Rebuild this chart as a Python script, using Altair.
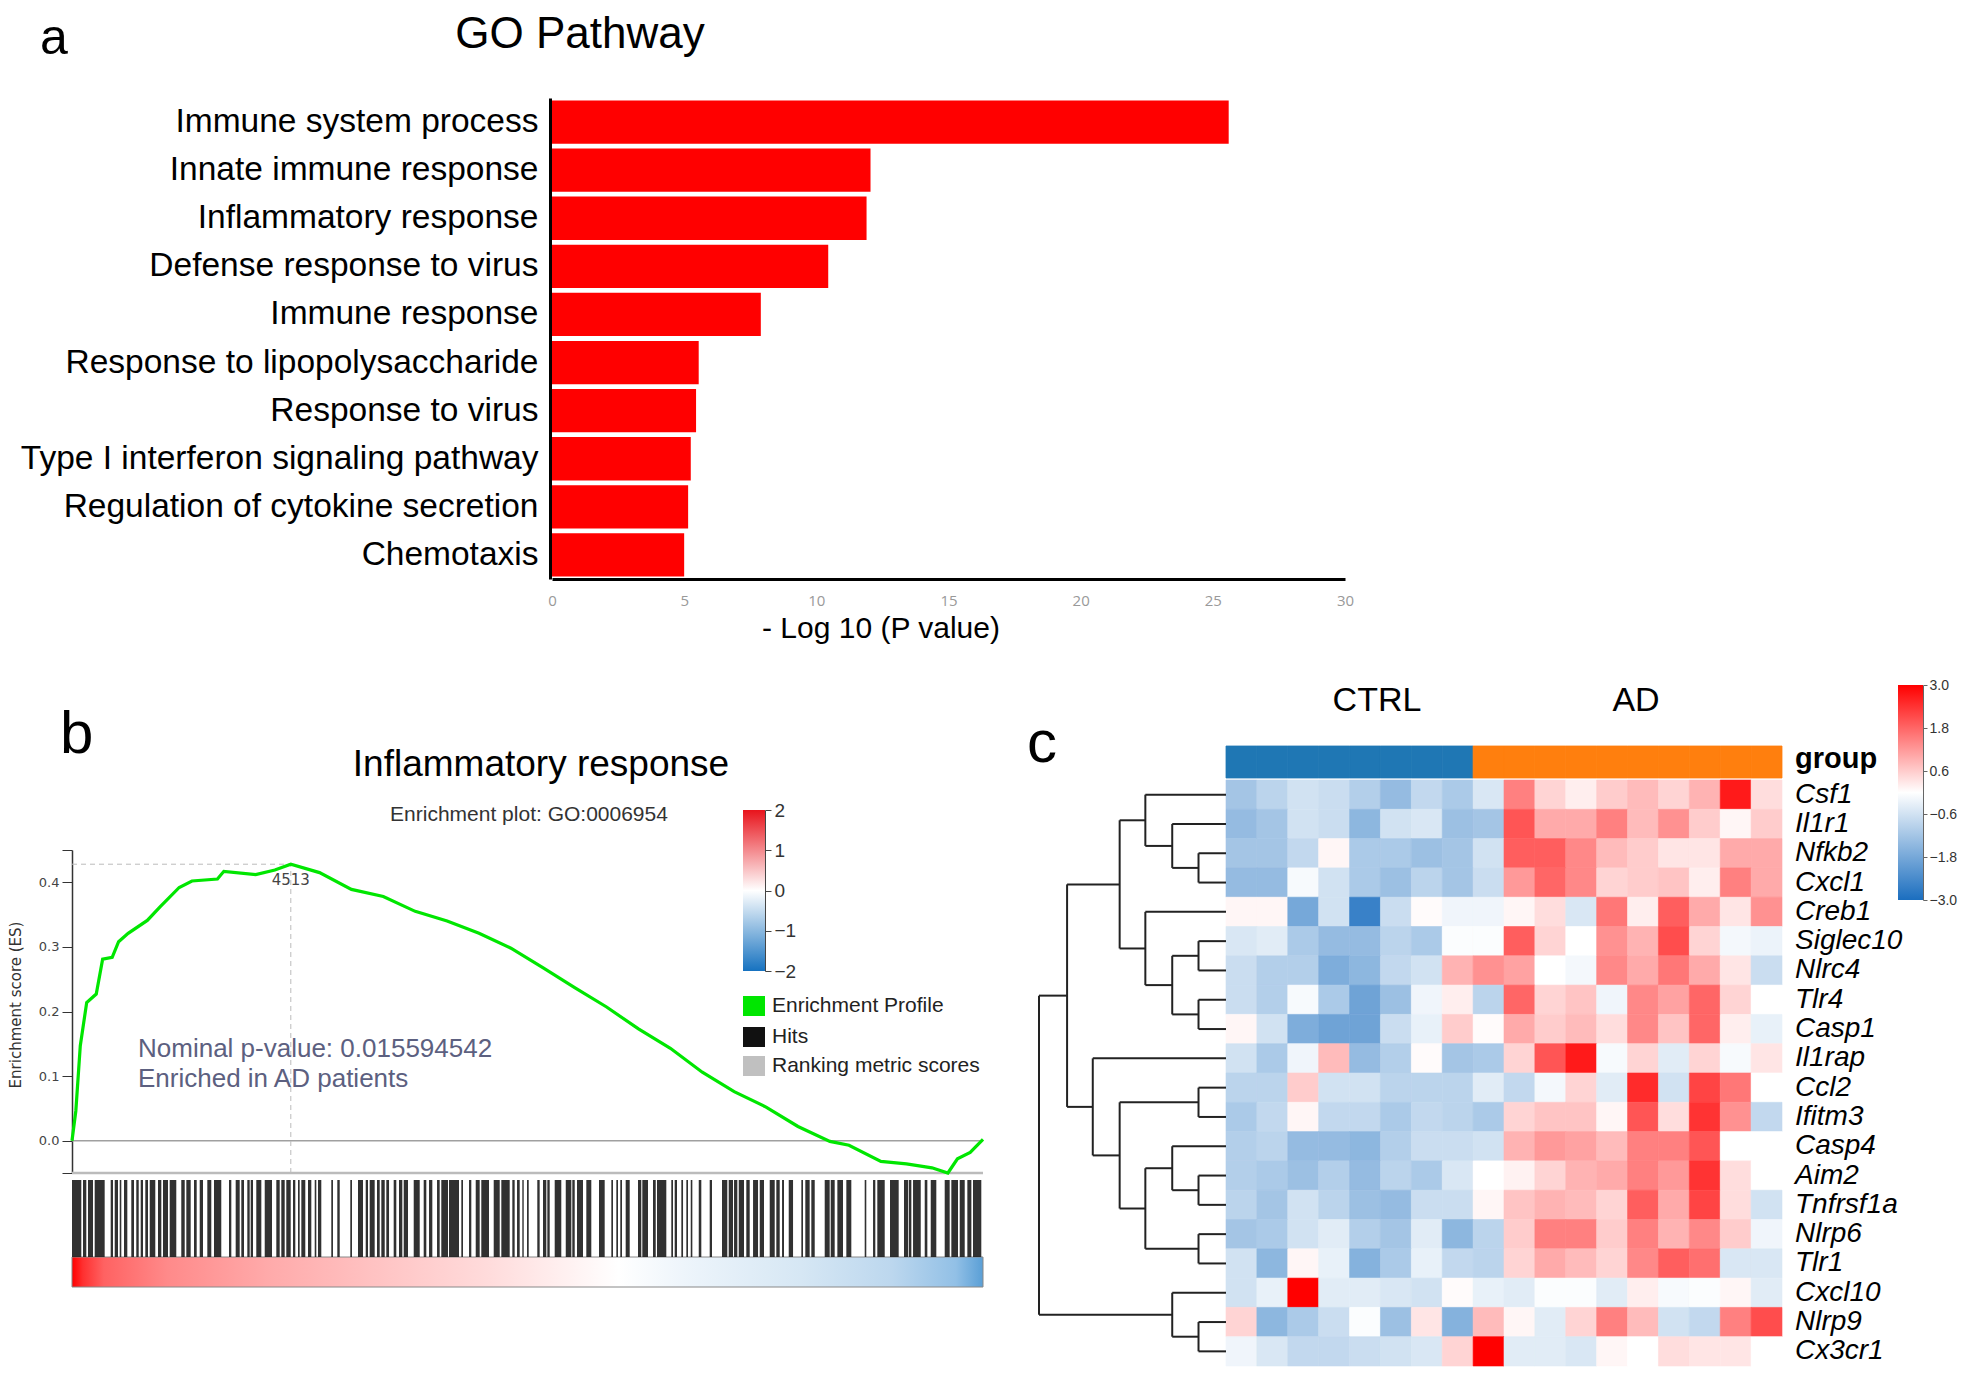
import altair as alt
import pandas as pd

W, H = 1952, 1364
M = 8


def X(v):
    return v - M


def Y(v):
    return v - M


SANS = "Liberation Sans"

# ---------------- Panel a : GO pathway ----------------
go_terms = [
    "Immune system process",
    "Innate immune response",
    "Inflammatory response",
    "Defense response to virus",
    "Immune response",
    "Response to lipopolysaccharide",
    "Response to virus",
    "Type I interferon signaling pathway",
    "Regulation of cytokine secretion",
    "Chemotaxis",
]
go_neglog10p = [25.6, 12.05, 11.9, 10.45, 7.9, 5.55, 5.45, 5.25, 5.15, 5.0]
go_ticks = [0, 5, 10, 15, 20, 25, 30]

# ---------------- Panel b : GSEA ----------------
n_ranked = 18790
es_rank = [0, 79, 171, 303, 500, 632, 829, 961, 1158, 1553, 1816, 2211, 2474, 3000, 3132,
           3790, 4184, 4513, 5105, 5763, 6421, 7079, 7737, 8395, 9053, 9711, 10368, 11026,
           11684, 12342, 13000, 13658, 14316, 14974, 15632, 16026, 16684, 17211, 17737,
           18066, 18263, 18526, 18790]
es_score = [0.0, 0.046, 0.147, 0.214, 0.227, 0.281, 0.284, 0.308, 0.321, 0.341, 0.362, 0.392,
            0.402, 0.405, 0.417, 0.412, 0.419, 0.428, 0.415, 0.389, 0.378, 0.355, 0.340, 0.321,
            0.298, 0.268, 0.237, 0.207, 0.173, 0.143, 0.106, 0.076, 0.052, 0.022, -0.001,
            -0.007, -0.032, -0.036, -0.042, -0.050, -0.028, -0.018, 0.002]
peak_rank = 4513
es_ticks = [-0.05, 0.0, 0.1, 0.2, 0.3, 0.4, 0.45]

hit_start = [0, 227, 330, 468, 798, 881, 984, 1073, 1223, 1326, 1417, 1512, 1603, 1774, 1877,
             2015, 2254, 2358, 2516, 2634, 2791, 2929, 3238, 3376, 3492, 3616, 3686, 3801, 3975,
             4214, 4317, 4420, 4558, 4661, 4730, 4868, 5006, 5074, 5348, 5472, 5740, 5899, 6058,
             6140, 6291, 6380, 6483, 6635, 6745, 6842, 7048, 7254, 7364, 7529, 7617, 7776, 8030,
             8189, 8327, 8442, 8698, 8855, 9082, 9179, 9288, 9385, 9597, 9715, 9804, 9956, 10184,
             10319, 10416, 10608, 10870, 11124, 11227, 11309, 11420, 11674, 11763, 11984, 12066,
             12361, 12431, 12568, 12671, 12762, 12927, 13153, 13407, 13545, 13655, 13752, 13908,
             14047, 14185, 14391, 14527, 14645, 14783, 15043, 15125, 15249, 15525, 15649, 15786,
             15971, 16350, 16522, 16610, 16872, 17161, 17258, 17347, 17588, 17712, 18000, 18137,
             18310, 18467, 18584]
hit_end = [192, 295, 433, 674, 846, 949, 1017, 1141, 1279, 1376, 1464, 1568, 1718, 1842, 1980,
           2151, 2325, 2448, 2572, 2702, 2873, 3079, 3286, 3459, 3548, 3665, 3733, 3905, 4125,
           4284, 4387, 4511, 4606, 4696, 4812, 4936, 5039, 5142, 5383, 5522, 5775, 6002, 6105,
           6243, 6347, 6450, 6539, 6689, 6813, 6930, 7172, 7308, 7432, 7584, 7755, 7982, 8065,
           8236, 8409, 8601, 8822, 9028, 9130, 9234, 9317, 9420, 9646, 9783, 9853, 10092, 10299,
           10369, 10540, 10711, 10987, 11159, 11262, 11344, 11503, 11742, 11880, 12040, 12258,
           12396, 12479, 12603, 12706, 12795, 12980, 13201, 13516, 13634, 13723, 13861, 13978,
           14150, 14273, 14494, 14597, 14686, 14872, 15078, 15215, 15319, 15628, 15731, 15903,
           16074, 16383, 16569, 16763, 17051, 17243, 17312, 17506, 17642, 17827, 18103, 18275,
           18413, 18550, 18755]

rank_stops = [(0.0, "#ff0000"), (0.012, "#ff3030"), (0.035, "#ff6262"), (0.105, "#ff8a8a"),
              (0.215, "#ffaaaa"), (0.33, "#ffc2c2"), (0.46, "#ffdcdc"), (0.6, "#ffffff"),
              (0.67, "#eef5fb"), (0.8, "#d6e7f4"), (0.9, "#bcd7ee"), (0.97, "#92c0e6"),
              (1.0, "#5a9fd6")]
metric_ticks = [2, 1, 0, -1, -2]

# ---------------- Panel c : heatmap ----------------
genes = ["Csf1", "Il1r1", "Nfkb2", "Cxcl1", "Creb1", "Siglec10", "Nlrc4", "Tlr4", "Casp1",
         "Il1rap", "Ccl2", "Ifitm3", "Casp4", "Aim2", "Tnfrsf1a", "Nlrp6", "Tlr1", "Cxcl10",
         "Nlrp9", "Cx3cr1"]
samples = [f"CTRL{i}" for i in range(1, 9)] + [f"AD{i}" for i in range(1, 11)]
groups = ["CTRL"] * 8 + ["AD"] * 10
expr = [
    [-1.2, -0.9, -0.6, -0.7, -1.0, -1.4, -0.8, -1.1, -0.5, 1.5, 0.5, 0.2, 0.6, 0.8, 0.5, 0.9, 2.7, 0.4],
    [-1.4, -1.2, -0.6, -0.7, -1.5, -0.6, -0.5, -1.3, -1.2, 2.0, 1.0, 1.0, 1.5, 0.8, 1.3, 0.6, 0.1, 0.6],
    [-1.2, -1.2, -0.8, 0.1, -1.1, -1.1, -1.3, -1.2, -0.6, 1.9, 1.9, 1.4, 0.8, 0.6, 0.3, 0.3, 1.0, 1.0],
    [-1.4, -1.4, -0.1, -0.6, -1.1, -1.3, -0.9, -1.2, -0.7, 1.2, 1.8, 1.4, 0.5, 0.6, 0.7, 0.2, 1.5, 1.0],
    [0.1, 0.1, -1.8, -0.6, -2.6, -0.7, 0.05, -0.2, -0.2, 0.1, 0.4, -0.5, 1.6, 0.2, 1.9, 1.0, 0.3, 1.3],
    [-0.5, -0.4, -1.1, -1.4, -1.4, -0.9, -1.1, -0.05, -0.05, 1.9, 0.5, 0.0, 1.3, 0.9, 2.1, 0.5, -0.15, -0.25],
    [-0.7, -1.0, -1.0, -1.7, -1.5, -0.8, -0.6, 0.9, 1.3, 1.1, 0.0, -0.15, 1.4, 1.0, 1.6, 1.0, 0.3, -0.7],
    [-0.7, -1.0, -0.1, -1.1, -1.9, -1.3, -0.2, 0.2, -0.9, 1.8, 0.5, 0.7, -0.2, 1.4, 1.1, 1.8, 0.5, 0.0],
    [0.1, -0.6, -1.7, -1.9, -1.9, -0.7, -0.3, 0.6, 0.05, 1.0, 0.6, 0.8, 0.4, 1.4, 0.7, 1.8, 0.2, -0.3],
    [-0.6, -1.1, -0.2, 0.8, -1.4, -1.0, 0.05, -1.2, -1.1, 0.5, 2.0, 2.7, -0.1, 0.5, -0.4, 0.5, -0.1, 0.3],
    [-0.9, -0.9, 0.6, -0.6, -0.6, -0.9, -0.9, -0.9, -0.4, -0.8, -0.15, 0.5, -0.4, 2.5, -0.6, 2.2, 1.6, 0.0],
    [-1.1, -0.8, 0.1, -0.8, -0.8, -1.1, -0.8, -0.9, -1.1, 0.5, 0.7, 0.7, 0.1, 2.0, 0.4, 2.4, 1.3, -0.8],
    [-1.0, -0.9, -1.4, -1.4, -1.5, -1.0, -0.7, -0.7, -0.6, 0.9, 1.2, 1.1, 0.8, 1.5, 1.5, 2.0, 0.0, 0.0],
    [-1.0, -1.1, -1.3, -1.0, -1.4, -0.9, -1.1, -0.5, 0.0, 0.15, 0.5, 0.9, 1.0, 1.5, 1.2, 2.4, 0.4, 0.0],
    [-0.9, -1.2, -0.6, -0.9, -1.3, -1.4, -0.7, -0.7, 0.1, 0.7, 0.9, 0.8, 0.5, 1.9, 1.0, 2.2, 0.4, -0.6],
    [-1.2, -1.1, -0.6, -0.4, -1.0, -1.2, -0.4, -1.5, -0.9, 0.6, 1.5, 1.5, 0.6, 1.5, 0.9, 1.4, 0.6, -0.2],
    [-0.6, -1.5, 0.1, -0.3, -1.6, -1.1, -0.3, -0.8, -0.9, 0.5, 1.0, 0.8, 0.5, 1.4, 1.9, 1.7, -0.5, -0.5],
    [-0.6, -0.3, 3.0, -0.4, -0.4, -0.5, -0.6, 0.05, -0.3, -0.4, -0.05, -0.05, -0.4, 0.2, -0.1, -0.05, 0.1, -0.4],
    [0.5, -1.5, -1.1, -0.7, -0.05, -1.3, 0.3, -1.6, 0.8, 0.1, -0.4, 0.5, 1.5, 0.8, -0.6, -0.8, 1.5, 2.1],
    [-0.2, -0.5, -0.8, -0.8, -0.7, -0.6, -0.5, 0.5, 3.0, -0.4, -0.4, -0.5, 0.1, 0.0, 0.4, 0.3, 0.3, 0.0],
]
# hierarchical clustering merges (child a, child b, height); "mK" = K-th merge
merges = [
    ("Nfkb2", "Cxcl1", 46), ("Il1r1", "m0", 90), ("Csf1", "m1", 135),
    ("Siglec10", "Nlrc4", 46), ("Tlr4", "Casp1", 46), ("m3", "m4", 90), ("Creb1", "m5", 135),
    ("m2", "m6", 178), ("Ccl2", "Ifitm3", 46), ("Aim2", "Tnfrsf1a", 46), ("Nlrp6", "Tlr1", 46),
    ("Casp4", "m9", 90), ("m11", "m10", 135), ("m8", "m12", 178), ("Il1rap", "m13", 223),
    ("m7", "m14", 266), ("Nlrp9", "Cx3cr1", 46), ("Cxcl10", "m16", 90), ("m15", "m17", 313),
]
heat_ticks = [3.0, 1.8, 0.6, -0.6, -1.8, -3.0]
heat_colors = ["#1b6ebf", "#ffffff", "#ff0000"]
group_colors = ["#1f77b4", "#ff7f0e"]


# ---------------- helpers ----------------
def label(text, x, y, size, font=SANS, color="#000000", align="left", baseline="alphabetic",
          weight="normal", style="normal", angle=0):
    return alt.Chart(alt.Data(values=[{"t": text}])).mark_text(
        font=font, fontSize=size, color=color, align=align, baseline=baseline,
        fontWeight=weight, fontStyle=style, angle=angle,
    ).encode(text="t:N", x=alt.value(X(x)), y=alt.value(Y(y)))


def box(x1, y1, x2, y2, color):
    return alt.Chart(alt.Data(values=[{"k": 0}])).mark_rect(color=color).encode(
        x=alt.value(X(x1)), x2=alt.value(X(x2)), y=alt.value(Y(y1)), y2=alt.value(Y(y2)))


def gradient(stops, vertical=False):
    return alt.LinearGradient(
        gradient="linear",
        stops=[alt.GradientStop(offset=o, color=c) for o, c in stops],
        x1=0, y1=0, x2=0 if vertical else 1, y2=1 if vertical else 0)


layers = []

# ---------------- Panel a ----------------
df_a = pd.DataFrame({"term": go_terms, "val": go_neglog10p})
bars = alt.Chart(df_a).mark_bar(color="#ff0000").encode(
    x=alt.X("val:Q",
            scale=alt.Scale(domain=[0, 30], range=[X(552), X(1345)], nice=False, zero=False),
            axis=alt.Axis(orient="bottom", offset=-(H - Y(579)), values=go_ticks,
                          labelFont="Open Sans", labelFontSize=15, labelColor="#999999",
                          labelPadding=14, ticks=False, tickSize=0, domainColor="#000000",
                          domainWidth=3, grid=False, title=None, labelFlush=False)),
    y=alt.Y("term:N",
            scale=alt.Scale(domain=go_terms, range=[Y(98), Y(579)], paddingInner=0.1,
                            paddingOuter=0.05),
            axis=alt.Axis(orient="left", offset=-X(550), labelFont=SANS, labelFontSize=33.5,
                          labelColor="#000000", labelPadding=12, ticks=False, tickSize=0,
                          domainColor="#000000", domainWidth=3, grid=False, title=None,
                          labelLimit=0)),
)
layers += [
    label("a", 40, 54, 50),
    label("GO Pathway", 580, 48, 44, align="center"),
    bars,
    label("- Log 10 (P value)", 881, 638, 30, align="center"),
]

# ---------------- Panel b ----------------
es_xs = alt.Scale(domain=[0, n_ranked], range=[X(72), X(983)], nice=False, zero=False)
es_ys = alt.Scale(domain=[-0.05, 0.45], range=[Y(1173), Y(850)], nice=False, zero=False)
es_df = pd.DataFrame({"rank": es_rank, "es": es_score})
peak_es = max(es_score)

grad_bar = alt.Chart(alt.Data(values=[{"a": 0, "b": n_ranked}])).mark_rect(
    color=gradient(rank_stops), stroke="#888888", strokeWidth=1).encode(
    x=alt.X("a:Q", scale=es_xs, axis=None), x2="b:Q",
    y=alt.value(Y(1257)), y2=alt.value(Y(1287)))

hits_df = pd.DataFrame({"s": hit_start, "e": hit_end})
hits = alt.Chart(hits_df).mark_rect(color="#141414", opacity=0.88).encode(
    x=alt.X("s:Q", scale=es_xs, axis=None), x2="e:Q",
    y=alt.value(Y(1180)), y2=alt.value(Y(1257)))

zero_line = alt.Chart(alt.Data(values=[{"a": 0, "b": n_ranked, "y": 0.0}])).mark_rule(
    color="#a0a0a0", strokeWidth=1.5).encode(
    x=alt.X("a:Q", scale=es_xs, axis=None), x2="b:Q",
    y=alt.Y("y:Q", scale=es_ys, axis=None))
bottom_line = alt.Chart(alt.Data(values=[{"a": 0, "b": n_ranked, "y": -0.05}])).mark_rule(
    color="#bbbbbb", strokeWidth=2.5).encode(
    x=alt.X("a:Q", scale=es_xs, axis=None), x2="b:Q",
    y=alt.Y("y:Q", scale=es_ys, axis=None))
hdash = alt.Chart(alt.Data(values=[{"a": 0, "b": peak_rank, "y": peak_es}])).mark_rule(
    color="#bbbbbb", strokeWidth=1, strokeDash=[5, 4]).encode(
    x=alt.X("a:Q", scale=es_xs, axis=None), x2="b:Q",
    y=alt.Y("y:Q", scale=es_ys, axis=None))
vdash = alt.Chart(alt.Data(values=[{"x": peak_rank, "a": -0.05, "b": peak_es}])).mark_rule(
    color="#bbbbbb", strokeWidth=1, strokeDash=[5, 4]).encode(
    x=alt.X("x:Q", scale=es_xs, axis=None),
    y=alt.Y("a:Q", scale=es_ys, axis=None), y2="b:Q")

es_line = alt.Chart(es_df).mark_line(color="#00e600", strokeWidth=3.2).encode(
    x=alt.X("rank:Q", scale=es_xs, axis=None),
    y=alt.Y("es:Q", scale=es_ys,
            axis=alt.Axis(orient="left", offset=-X(72), values=es_ticks,
                          labelExpr="(datum.value < -0.01 || datum.value > 0.41) ? '' : format(datum.value, '.1f')",
                          tickSize=10, tickColor="#333333", domainColor="#333333",
                          domainWidth=1.5, labelFont="DejaVu Sans", labelFontSize=13,
                          labelColor="#444444", labelPadding=3, title=None, grid=False,
                          labelOverlap=False)))
peak_label = alt.Chart(alt.Data(values=[{"x": peak_rank, "y": 0.403, "t": str(peak_rank)}])).mark_text(
    font="DejaVu Sans", fontSize=15, color="#444444", align="center", baseline="middle").encode(
    x=alt.X("x:Q", scale=es_xs, axis=None), y=alt.Y("y:Q", scale=es_ys, axis=None), text="t:N")

cb_b_scale = alt.Scale(domain=[-2, 2], range=[Y(971), Y(810)], nice=False, zero=False)
cbar_b = alt.Chart(alt.Data(values=[{"a": -2, "b": 2}])).mark_rect(
    color=gradient([(0, "#e8141c"), (0.5, "#ffffff"), (1, "#1672c0")], vertical=True)).encode(
    x=alt.value(X(743)), x2=alt.value(X(765)),
    y=alt.Y("a:Q", scale=cb_b_scale,
            axis=alt.Axis(orient="right", offset=X(765) - W, values=metric_ticks, tickSize=6,
                          tickColor="#444444", domainColor="#444444", labelFont=SANS,
                          labelFontSize=19, labelColor="#333333", labelPadding=3, title=None,
                          grid=False, labelOverlap=False)),
    y2="b:Q")

layers += [
    label("b", 60, 753, 60),
    label("Inflammatory response", 541, 776, 37, align="center"),
    label("Enrichment plot: GO:0006954", 529, 821, 21, color="#333333", align="center"),
    grad_bar, hits, zero_line, bottom_line, hdash, vdash, es_line, peak_label,
    label("Enrichment score (ES)", 16, 1005, 15, font="DejaVu Sans", color="#333333",
          align="center", baseline="middle", angle=270),
    label("Nominal p-value: 0.015594542", 138, 1057, 26, color="#5c6080"),
    label("Enriched in AD patients", 138, 1087, 26, color="#5c6080"),
    cbar_b,
    box(743, 996, 765, 1016, "#00e600"),
    label("Enrichment Profile", 772, 1006, 21, color="#222222", baseline="middle"),
    box(743, 1027, 765, 1047, "#111111"),
    label("Hits", 772, 1037, 21, color="#222222", baseline="middle"),
    box(743, 1056, 765, 1076, "#c0c0c0"),
    label("Ranking metric scores", 772, 1066, 21, color="#222222", baseline="middle"),
]

# ---------------- Panel c ----------------
HEAT_TOP, HEAT_BOT = 780, 1366
col_scale = alt.Scale(domain=samples, range=[X(1226), X(1782)], paddingInner=0, paddingOuter=0)
row_scale = alt.Scale(domain=genes, range=[Y(HEAT_TOP), Y(HEAT_BOT)], paddingInner=0,
                      paddingOuter=0)
heat_cscale = alt.Scale(domain=[-3, 0, 3], range=heat_colors, interpolate="rgb")

heat_rows = []
for g, vals in zip(genes, expr):
    for s, v in zip(samples, vals):
        heat_rows.append({"gene": g, "sample": s, "v": v})
heat_df = pd.DataFrame(heat_rows)
heat = alt.Chart(heat_df).mark_rect(strokeWidth=0.6).encode(
    x=alt.X("sample:N", scale=col_scale, axis=None),
    y=alt.Y("gene:N", scale=row_scale, axis=None),
    color=alt.Color("v:Q", scale=heat_cscale, legend=None),
    stroke=alt.Stroke("v:Q", scale=heat_cscale, legend=None))

group_df = pd.DataFrame({"sample": samples, "group": groups})
grp_scale = alt.Scale(domain=["CTRL", "AD"], range=group_colors)
group_bar = alt.Chart(group_df).mark_rect(strokeWidth=0.8).encode(
    x=alt.X("sample:N", scale=col_scale, axis=None),
    y=alt.value(Y(746)), y2=alt.value(Y(778)),
    color=alt.Color("group:N", scale=grp_scale, legend=None),
    stroke=alt.Stroke("group:N", scale=grp_scale, legend=None))

gene_df = pd.DataFrame({"gene": genes})
gene_labels = alt.Chart(gene_df).mark_text(
    font=SANS, fontSize=28, fontStyle="italic", align="left", baseline="middle",
    color="#000000").encode(
    y=alt.Y("gene:N", scale=row_scale, axis=None), x=alt.value(X(1795)), text="gene:N")

pos = {g: i for i, g in enumerate(genes)}
hgt = {g: 0 for g in genes}
segs = []
for k, (a, b, h) in enumerate(merges):
    for c in (a, b):
        segs.append({"x": hgt[c], "x2": h, "y": pos[c], "y2": pos[c]})
    segs.append({"x": h, "x2": h, "y": pos[a], "y2": pos[b]})
    pos[f"m{k}"] = (pos[a] + pos[b]) / 2
    hgt[f"m{k}"] = h
dend_xs = alt.Scale(domain=[0, 313], range=[X(1226), X(1039)], nice=False, zero=False)
dend_ys = alt.Scale(domain=[-0.5, len(genes) - 0.5], range=[Y(HEAT_TOP), Y(HEAT_BOT)],
                    nice=False, zero=False)
dendro = alt.Chart(pd.DataFrame(segs)).mark_rule(color="#222222", strokeWidth=2).encode(
    x=alt.X("x:Q", scale=dend_xs, axis=None), x2="x2:Q",
    y=alt.Y("y:Q", scale=dend_ys, axis=None), y2="y2:Q")

cb_c_scale = alt.Scale(domain=[-3, 3], range=[Y(900), Y(685)], nice=False, zero=False)
cbar_c = alt.Chart(alt.Data(values=[{"a": -3, "b": 3}])).mark_rect(
    color=gradient([(0, "#ff0000"), (0.5, "#ffffff"), (1, "#1b6ebf")], vertical=True)).encode(
    x=alt.value(X(1898)), x2=alt.value(X(1923)),
    y=alt.Y("a:Q", scale=cb_c_scale,
            axis=alt.Axis(orient="right", offset=X(1923) - W, values=heat_ticks, format=".1f",
                          tickSize=4, tickColor="#666666", domainColor="#666666",
                          labelFont=SANS, labelFontSize=14, labelColor="#333333",
                          labelPadding=2, title=None, grid=False, labelOverlap=False)),
    y2="b:Q")

layers += [
    label("c", 1027, 762, 60),
    label("CTRL", 1377, 711, 34, align="center"),
    label("AD", 1636, 711, 34, align="center"),
    group_bar, heat, gene_labels,
    label("group", 1795, 768, 29, weight="bold"),
    dendro, cbar_c,
]

chart = alt.layer(*layers).resolve_scale(
    x="independent", y="independent", color="independent", stroke="independent"
).resolve_axis(x="independent", y="independent").properties(
    width=W, height=H, padding=0, autosize=alt.AutoSizeParams(type="none")
).configure_view(stroke=None).configure_axis(grid=False)

chart.save("out.html", embed_options={"renderer": "svg", "actions": False})
